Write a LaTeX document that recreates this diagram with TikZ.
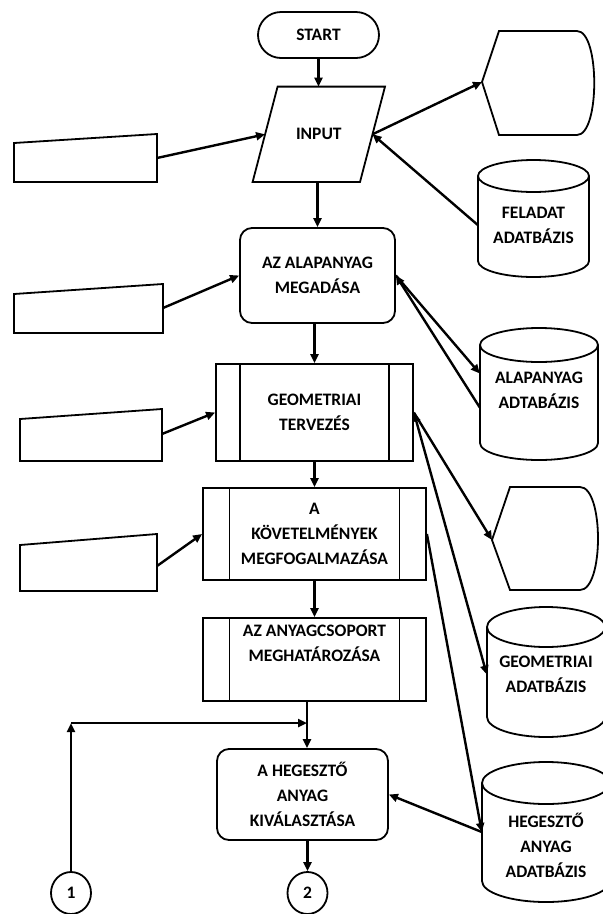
\documentclass[tikz,border=0pt]{standalone}
\usepackage{fontspec}
\setmainfont{Carlito}
\usetikzlibrary{positioning, shapes.geometric, arrows.meta}

\begin{document}
\begin{tikzpicture}[
    x=1pt, y=-1pt,
    >={Triangle[length=9pt,width=8pt]},
    box/.style={
        draw,
        line width=1.8pt,
        font=\bfseries\fontsize{17.5}{25}\selectfont,
        align=center
    },
    dbtext/.style={
        font=\bfseries\fontsize{17.5}{25}\selectfont,
        align=center,
        minimum height=30pt
    },
    shapeline/.style={line width=1.8pt},
    flow/.style={line width=2.4pt, ->},
    terminal/.style={box, rounded corners=23pt, minimum width=121pt, minimum height=46pt},
    inputtext/.style={dbtext, minimum width=107pt, minimum height=95pt},
    process/.style={box, rounded corners=12pt},
    subproc/.style={box, path picture={
        \draw[line width=1.8pt] ([xshift=#1]path picture bounding box.north west)
            -- ([xshift=#1]path picture bounding box.south west);
        \draw[line width=1.8pt] ([xshift=-#1]path picture bounding box.north east)
            -- ([xshift=-#1]path picture bounding box.south east);
    }},
    subproc/.default=25pt,
    connector/.style={box, ellipse, minimum width=40pt, minimum height=42pt, inner sep=0pt}
]

\useasboundingbox (0,0) rectangle (603,914);

% Main flow
\node[terminal] (start) at (318.5,35) {START};
\node[inputtext] (input) at (318.8,134.3) {INPUT};
\draw[shapeline] ([xshift=12.5pt]input.north west) -- ([xshift=12.5pt]input.north east)
    -- ([xshift=-12.5pt]input.south east) -- ([xshift=-12.5pt]input.south west) -- cycle;
\node[process, minimum width=155pt, minimum height=95pt] (alap) at (317.5,275.5) {AZ ALAPANYAG\\MEGADÁSA};
\node[subproc=24pt, minimum width=197pt, minimum height=97pt] (geom) at (314.5,412.5) {GEOMETRIAI\\TERVEZÉS};
\node[subproc=26.5pt, minimum width=223pt, minimum height=92pt] (kovet) at (314.5,534) {A\\KÖVETELMÉNYEK\\MEGFOGALMAZÁSA};
\node[subproc=26.5pt, minimum width=223pt, minimum height=83pt] (anyag) at (314.5,659.5) {AZ ANYAGCSOPORT\\MEGHATÁROZÁSA\\\strut};
\node[process, minimum width=171pt, minimum height=91pt] (heg) at (302.5,794.5) {A HEGESZTŐ\\ANYAG\\KIVÁLASZTÁSA};

% Connectors at the bottom
\node[connector] (c1) at (71,893) {1};
\node[connector] (c2) at (307.5,893) {2};
\coordinate (junc) at (307,723);
\coordinate (corner) at (c1.north |- junc);

% Manual inputs on the left
\draw[shapeline] (14,143) -- (157,134) -- (157,182) -- (14,182) -- cycle;
\coordinate (man1) at (157,158);
\draw[shapeline] (14,294) -- (163,284) -- (163,333) -- (14,333) -- cycle;
\coordinate (man2) at (163,308);
\draw[shapeline] (20,419) -- (162,409) -- (162,461) -- (20,461) -- cycle;
\coordinate (man3) at (162,434);
\draw[shapeline] (20,545) -- (157,534) -- (157,591) -- (20,591) -- cycle;
\coordinate (man4) at (157,566);

% Displays on the right
\coordinate (disp1) at (482,82);
\draw[shapeline] (disp1) -- (499,31) -- (577,31) .. controls (600,31) and (600,135) .. (577,135)
    -- (499,135) -- cycle;
\coordinate (disp2) at (492,540);
\draw[shapeline] (disp2) -- (510,487) -- (580,487) .. controls (604,487) and (604,590) .. (580,590)
    -- (510,590) -- cycle;

% Databases
\draw[shapeline] (478,176) -- (478,261) arc[start angle=180, end angle=0, x radius=55.5, y radius=16] -- (589,176);
\draw[shapeline] (533.5,176) ellipse[x radius=55.5, y radius=16];
\node[dbtext, minimum width=111pt] (feladat) at (533.5,225) {FELADAT\\ADATBÁZIS};

\draw[shapeline] (480,345) -- (480,443) arc[start angle=180, end angle=0, x radius=59, y radius=17] -- (598,345);
\draw[shapeline] (539,345) ellipse[x radius=59, y radius=17];
\node[dbtext, minimum width=118pt] (alapdb) at (539,390.5) {ALAPANYAG\\ADTABÁZIS};

\draw[shapeline] (487,627) -- (487,717) arc[start angle=180, end angle=0, x radius=59, y radius=20] -- (605,627);
\draw[shapeline] (546,627) ellipse[x radius=59, y radius=20];
\node[dbtext, minimum width=118pt] (geomdb) at (546,674.5) {GEOMETRIAI\\ADATBÁZIS};

\draw[shapeline] (482,783) -- (482,881) arc[start angle=180, end angle=0, x radius=64, y radius=21] -- (610,783);
\draw[shapeline] (546,783) ellipse[x radius=64, y radius=21];
\node[dbtext, minimum width=128pt] (hegdb) at (546,845) {HEGESZTŐ\\ANYAG\\ADATBÁZIS};

% Arrows of the main flow
\draw[flow] (start.south) -- (start.south |- input.north);
\draw[flow] (alap.north |- input.south) -- (alap.north);
\draw[flow] (geom.north |- alap.south) -- (geom.north);
\draw[flow] (geom.south) -- (kovet.north);
\draw[flow] (kovet.south) -- (anyag.north);
\draw[flow] (anyag.south -| junc) -- (heg.north -| junc);
\draw[flow] (c1.north) -- (corner);
\draw[flow] (corner) -- (junc);
\draw[flow] (heg.south -| c2) -- (c2.north);

% Arrows from the left
\draw[flow] (man1) -- (input.west);
\draw[flow] (man2) -- (alap.west);
\draw[flow] (man3) -- (geom.west);
\draw[flow] (man4) -- (kovet.west);

% Arrows to the right
\draw[flow] (input.east) -- (disp1);
\draw[flow] (feladat.west) -- (input.east);
\draw[flow] (alap.east) -- ([yshift=17pt]alapdb.west);
\draw[flow] ([yshift=-17pt]alapdb.west) -- (alap.east);
\draw[flow] (geom.east) -- (disp2);
\draw[flow, <->] (geom.east) -- (geomdb.west);
\draw[flow] (kovet.east) -- ([yshift=13pt]hegdb.west);
\draw[flow] ([yshift=13pt]hegdb.west) -- (heg.east);

\end{tikzpicture}
\end{document}
